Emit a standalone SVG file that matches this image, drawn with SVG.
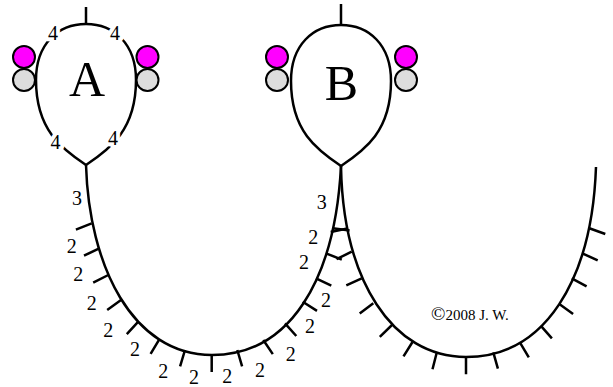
<svg xmlns="http://www.w3.org/2000/svg" width="613" height="387" viewBox="0 0 613 387">
<style>
.ln{fill:none;stroke:#000;stroke-width:2.5;stroke-linecap:butt}
.body{fill:#fff;stroke:#000;stroke-width:2.5}
.mag{fill:#ff00ff;stroke:#000;stroke-width:2}
.gry{fill:#dddddd;stroke:#000;stroke-width:2}
.big{font-family:"Liberation Serif","Times New Roman",serif;font-size:50px;text-anchor:middle;fill:#000}
.num{font-family:"Liberation Serif","Times New Roman",serif;font-size:20px;text-anchor:middle;fill:#000}
.gap{paint-order:stroke;stroke:#fff;stroke-width:8;stroke-linejoin:round}
.copy{font-family:"Liberation Serif","Times New Roman",serif;font-size:15px;fill:#000}
</style>
<rect width="613" height="387" fill="#fff"/>
<g id="connectors">
<path class="ln" d="M86,165 C89,265 132,355 212,355 C290,355 335,280 341,166"/>
<path class="ln" d="M341,166 C343,280 392,357 466,357 C545,357 592,280 596,167"/>
<path class="ln" d="M91.7,223.3 L75.9,229.6 M99.3,248.3 L84,255.7 M108.3,275 L93.2,282.7 M121,300 L107.2,309.9 M138.3,321.7 L126.8,334.2 M159.3,339.3 L150.6,353.9 M185,350 L180.1,366.3 M211.7,355 L211.7,372 M237.3,350 L242.1,366.3 M263.3,340 L272.8,354.1 M285,323.3 L296.3,336 M302.7,301.7 L317,310.9 M316,278.3 L331.3,285.7 M326,253.3 L341.8,259.6 M332.7,228.3 L349.6,230.5"/>
<path class="ln" d="M347.3,228.5 L330.7,232 M351.7,251.7 L336.5,259.2 M361.7,278.3 L346.3,285.4 M373.3,303.3 L359.7,313.5 M392,325 L379.8,336.9 M412.5,342 L403.5,356.4 M436.7,352.7 L432.5,369.2 M466,357 L466,374.3 M493.3,352.3 L497.9,368.7 M520,342.7 L528.8,357.3 M540.7,325.7 L551.9,338.4 M559.3,304 L573.1,313.9 M571.7,278.3 L586.6,286.4 M582.3,253.3 L597.7,260.4 M589.3,228.3 L605.3,234"/>
<g class="num">
<text x="77" y="204.5">3</text>
<text x="71.7" y="253.2">2</text>
<text x="78.3" y="280.5">2</text>
<text x="91.7" y="309.5">2</text>
<text x="108.3" y="336.5">2</text>
<text x="135" y="355.5">2</text>
<text x="163.3" y="378">2</text>
<text x="194" y="384">2</text>
<text x="227.3" y="383">2</text>
<text x="260" y="376.5">2</text>
<text x="290.7" y="360.5">2</text>
<text x="310" y="333.2">2</text>
<text x="326" y="306.5">2</text>
<text x="304" y="269.2">2</text>
<text x="313.3" y="243.8">2</text>
<text x="321.7" y="209.2">3</text>
</g>
</g>
<g id="nodeA">
<path class="ln" d="M86,7 L86,24"/>
<path class="body" d="M86,165 C62,149 36,130 36,80 C36,44 58,24 86,24 C114,24 136,44 136,80 C136,130 110,149 86,165 Z"/>
<circle class="mag" cx="24" cy="57" r="11"/>
<circle class="gry" cx="24" cy="80" r="11"/>
<circle class="mag" cx="147.5" cy="57" r="11"/>
<circle class="gry" cx="147.5" cy="80" r="11"/>
<text class="big" x="87" y="96">A</text>
<g class="num gap">
<text x="53" y="40">4</text>
<text x="115" y="40">4</text>
<text x="55.5" y="149">4</text>
<text x="113" y="145">4</text>
</g>
</g>
<g id="nodeB">
<path class="ln" d="M341,4 L341,25"/>
<path class="body" d="M341,166 C317,150 291,131 291,81 C291,45 313,25 341,25 C369,25 391,45 391,81 C391,131 365,150 341,166 Z"/>
<circle class="mag" cx="277" cy="57" r="11"/>
<circle class="gry" cx="277" cy="80" r="11"/>
<circle class="mag" cx="406" cy="57" r="11"/>
<circle class="gry" cx="406" cy="80" r="11"/>
<text class="big" x="341.5" y="100">B</text>
</g>
<text class="copy" x="431" y="320"><tspan font-size="19px">©</tspan>2008 J. W.</text>
</svg>
